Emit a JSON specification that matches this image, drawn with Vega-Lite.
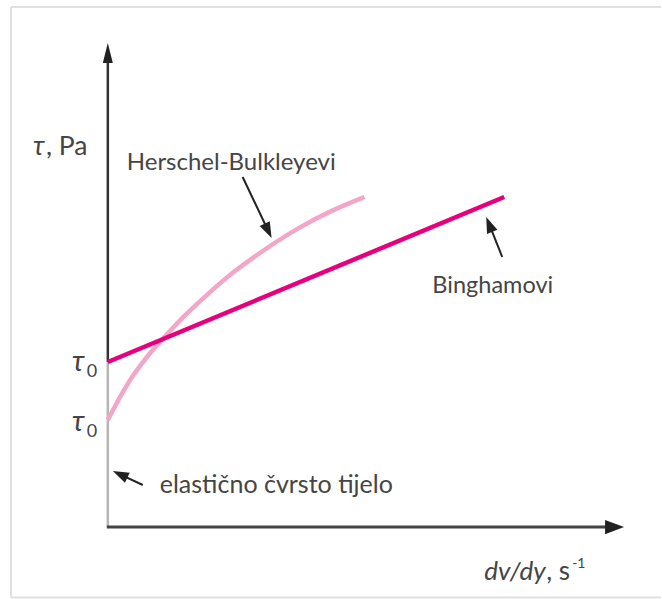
{
  "$schema": "https://vega.github.io/schema/vega-lite/v6.json",
  "width": 662,
  "height": 599,
  "padding": 0,
  "autosize": {"type": "fit", "contains": "padding"},
  "background": "white",
  "config": {"view": {"stroke": null}},
  "datasets": {
    "frameH": [{"x": -97, "y": 520, "x2": 554, "y2": 520}, {"x": -97, "y": -70.5, "x2": 554, "y2": -70.5}],
    "frameV": [{"x": -97, "y": -70.5, "x2": -97, "y2": 520}],
    "yUpper": [{"x": 0, "y": 165, "x2": 0, "y2": 468}],
    "yLower": [{"x": 0, "y": 0, "x2": 0, "y2": 165}],
    "xAxis": [{"x": -1, "y": 0, "x2": 503, "y2": 0}],
    "yHead": [{"x": 0, "y": 484}],
    "xHead": [{"x": 517, "y": 0}],
    "bingham": [{"x": 0, "y": 165}, {"x": 397, "y": 330}],
    "hb": [
      {"x": 0, "y": 107}, {"x": 12, "y": 130}, {"x": 25, "y": 152}, {"x": 42, "y": 174},
      {"x": 54, "y": 187}, {"x": 75, "y": 210}, {"x": 99, "y": 232}, {"x": 125, "y": 255},
      {"x": 159, "y": 279}, {"x": 192, "y": 300}, {"x": 225, "y": 317}, {"x": 257, "y": 330}
    ],
    "hbArrow": [{"x": 135, "y": 350, "x2": 160.6, "y2": 296.2}],
    "hbHead": [{"x": 164, "y": 289}],
    "bArrow": [{"x": 395, "y": 270, "x2": 382, "y2": 302.6}],
    "bHead": [{"x": 379, "y": 310}],
    "eArrow": [{"x": 35, "y": 42, "x2": 12.3, "y2": 52.6}],
    "eHead": [{"x": 5, "y": 56}],
    "hbLabel": [{"x": 19, "y": 357, "t": "Herschel-Bulkleyevi"}],
    "bLabel": [{"x": 325, "y": 234, "t": "Binghamovi"}],
    "eLabel": [{"x": 52, "y": 34, "t": "elastično čvrsto tijelo"}],
    "tauPa": [{"x": -75, "y": 372, "t": "τ"}],
    "pa": [{"x": -62, "y": 372, "t": ", Pa"}],
    "tau0": [{"x": -36, "y": 156, "t": "τ"}, {"x": -36, "y": 96, "t": "τ"}],
    "sub0": [{"x": -21, "y": 150, "t": "0"}, {"x": -21, "y": 90, "t": "0"}],
    "dvdy": [{"x": 377, "y": -53, "t": "dv/dy"}],
    "sUnit": [{"x": 439, "y": -53, "t": ", s"}],
    "sup": [{"x": 465, "y": -41, "t": "-1"}]
  },
  "encoding": {
    "x": {"field": "x", "type": "quantitative", "scale": {"domain": [-108, 554], "nice": false, "zero": false}, "axis": null},
    "y": {"field": "y", "type": "quantitative", "scale": {"domain": [-72, 527], "nice": false, "zero": false}, "axis": null}
  },
  "layer": [
    {"data": {"name": "frameH"}, "mark": {"type": "rule", "color": "#e0e0e0", "strokeWidth": 2},
     "encoding": {"x2": {"field": "x2"}, "y2": {"field": "y2"}}},
    {"data": {"name": "frameV"}, "mark": {"type": "rule", "color": "#e0e0e0", "strokeWidth": 2},
     "encoding": {"x2": {"field": "x2"}, "y2": {"field": "y2"}}},
    {"data": {"name": "yLower"}, "mark": {"type": "rule", "color": "#b5b5b5", "strokeWidth": 2.5},
     "encoding": {"x2": {"field": "x2"}, "y2": {"field": "y2"}}},
    {"data": {"name": "yUpper"}, "mark": {"type": "rule", "color": "#333333", "strokeWidth": 2.5},
     "encoding": {"x2": {"field": "x2"}, "y2": {"field": "y2"}}},
    {"data": {"name": "xAxis"}, "mark": {"type": "rule", "color": "#444444", "strokeWidth": 3},
     "encoding": {"x2": {"field": "x2"}, "y2": {"field": "y2"}}},
    {"data": {"name": "yHead"}, "mark": {"type": "point", "shape": "M0,0L-0.5,2L0.5,2Z", "filled": true, "color": "#222222", "opacity": 1, "size": 400, "angle": 0}},
    {"data": {"name": "xHead"}, "mark": {"type": "point", "shape": "M0,0L-0.75,2L0.75,2Z", "filled": true, "color": "#222222", "opacity": 1, "size": 361, "angle": 90}},
    {"data": {"name": "hb"}, "mark": {"type": "line", "color": "#f4a6c8", "strokeWidth": 4.5, "interpolate": "basis", "strokeCap": "butt"}},
    {"data": {"name": "bingham"}, "mark": {"type": "line", "color": "#e6007e", "strokeWidth": 4.5, "strokeCap": "butt"}},
    {"data": {"name": "hbArrow"}, "mark": {"type": "rule", "color": "#222222", "strokeWidth": 2},
     "encoding": {"x2": {"field": "x2"}, "y2": {"field": "y2"}}},
    {"data": {"name": "hbHead"}, "mark": {"type": "point", "shape": "M0,0L-0.7,2L0.7,2Z", "filled": true, "color": "#222222", "opacity": 1, "size": 256, "angle": 154.6}},
    {"data": {"name": "bArrow"}, "mark": {"type": "rule", "color": "#222222", "strokeWidth": 2},
     "encoding": {"x2": {"field": "x2"}, "y2": {"field": "y2"}}},
    {"data": {"name": "bHead"}, "mark": {"type": "point", "shape": "M0,0L-0.7,2L0.7,2Z", "filled": true, "color": "#222222", "opacity": 1, "size": 256, "angle": 338.2}},
    {"data": {"name": "eArrow"}, "mark": {"type": "rule", "color": "#222222", "strokeWidth": 2},
     "encoding": {"x2": {"field": "x2"}, "y2": {"field": "y2"}}},
    {"data": {"name": "eHead"}, "mark": {"type": "point", "shape": "M0,0L-0.7,2L0.7,2Z", "filled": true, "color": "#222222", "opacity": 1, "size": 256, "angle": 295}},
    {"data": {"name": "hbLabel"}, "mark": {"type": "text", "font": "Lato", "fontSize": 24, "color": "#454545", "align": "left", "baseline": "alphabetic"},
     "encoding": {"text": {"field": "t"}}},
    {"data": {"name": "bLabel"}, "mark": {"type": "text", "font": "Lato", "fontSize": 23.5, "color": "#454545", "align": "left", "baseline": "alphabetic"},
     "encoding": {"text": {"field": "t"}}},
    {"data": {"name": "eLabel"}, "mark": {"type": "text", "font": "Lato", "fontSize": 25, "color": "#454545", "align": "left", "baseline": "alphabetic"},
     "encoding": {"text": {"field": "t"}}},
    {"data": {"name": "tauPa"}, "mark": {"type": "text", "font": "Lato", "fontStyle": "italic", "fontSize": 27, "color": "#454545", "align": "left", "baseline": "alphabetic"},
     "encoding": {"text": {"field": "t"}}},
    {"data": {"name": "pa"}, "mark": {"type": "text", "font": "Lato", "fontSize": 26.5, "color": "#454545", "align": "left", "baseline": "alphabetic"},
     "encoding": {"text": {"field": "t"}}},
    {"data": {"name": "tau0"}, "mark": {"type": "text", "font": "Lato", "fontStyle": "italic", "fontSize": 29, "color": "#454545", "align": "left", "baseline": "alphabetic"},
     "encoding": {"text": {"field": "t"}}},
    {"data": {"name": "sub0"}, "mark": {"type": "text", "font": "Lato", "fontSize": 18, "color": "#454545", "align": "left", "baseline": "alphabetic"},
     "encoding": {"text": {"field": "t"}}},
    {"data": {"name": "dvdy"}, "mark": {"type": "text", "font": "Lato", "fontStyle": "italic", "fontSize": 26, "color": "#454545", "align": "left", "baseline": "alphabetic"},
     "encoding": {"text": {"field": "t"}}},
    {"data": {"name": "sUnit"}, "mark": {"type": "text", "font": "Lato", "fontSize": 26, "color": "#454545", "align": "left", "baseline": "alphabetic"},
     "encoding": {"text": {"field": "t"}}},
    {"data": {"name": "sup"}, "mark": {"type": "text", "font": "Lato", "fontSize": 14, "color": "#454545", "align": "left", "baseline": "alphabetic"},
     "encoding": {"text": {"field": "t"}}}
  ]
}
